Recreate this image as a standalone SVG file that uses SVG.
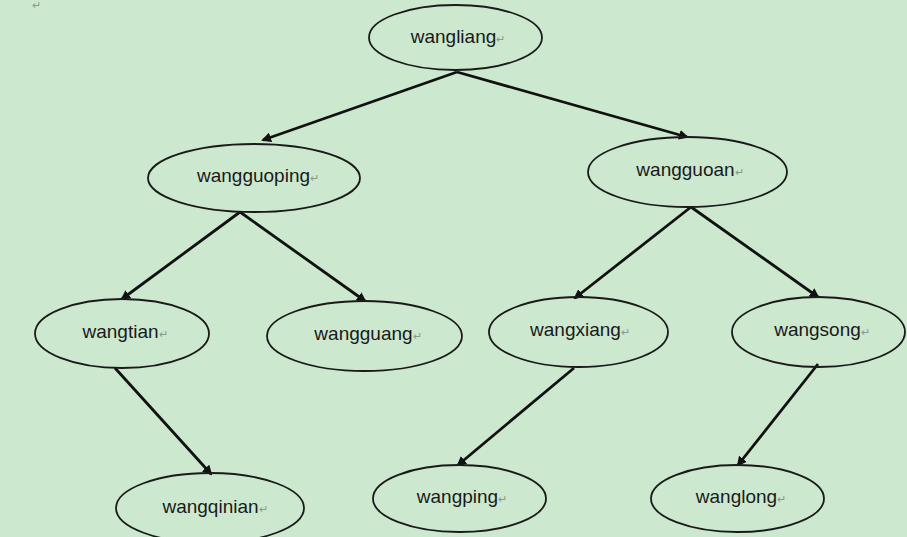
<svg xmlns="http://www.w3.org/2000/svg" width="907" height="537" viewBox="0 0 907 537">
<style>
.n{fill:none;stroke:#1a1a1a;stroke-width:1.8}
.t{font-family:"Liberation Sans",Arial,sans-serif;font-size:19px;fill:#1a1a1a;text-anchor:middle}
.r{font-size:11px;fill:#8a9a8a}
.c line{stroke:#111;stroke-width:2.8;marker-end:url(#a)}
</style>
<defs>
<marker id="a" markerWidth="10" markerHeight="10" refX="8" refY="5" orient="auto" markerUnits="userSpaceOnUse">
<path d="M0,0 L10,5 L0,10 Z" fill="#111"/>
</marker>
</defs>
<rect width="907" height="537" fill="#cce8cf"/>
<text x="36" y="9" class="t r">↵</text>
<g class="c" id="connectors">
<line x1="457" y1="72" x2="263" y2="140"/>
<line x1="457" y1="72" x2="687" y2="137"/>
<line x1="240" y1="212" x2="122" y2="299"/>
<line x1="240" y1="212" x2="365" y2="301"/>
<line x1="691" y1="207" x2="575" y2="298"/>
<line x1="691" y1="207" x2="818" y2="297"/>
<line x1="115" y1="368" x2="211" y2="474"/>
<line x1="574" y1="368" x2="458" y2="465"/>
<line x1="818" y1="364" x2="738" y2="465"/>
</g>
<g id="wangliang"><ellipse class="n" cx="455.5" cy="37.5" rx="86.5" ry="32.5"/><text class="t" x="458" y="43">wangliang<tspan class="r">↵</tspan></text></g>
<g id="wangguoping"><ellipse class="n" cx="254" cy="178" rx="106" ry="34"/><text class="t" x="258" y="182">wangguoping<tspan class="r">↵</tspan></text></g>
<g id="wangguoan"><ellipse class="n" cx="687.5" cy="172" rx="99.5" ry="35"/><text class="t" x="690" y="176">wangguoan<tspan class="r">↵</tspan></text></g>
<g id="wangtian"><ellipse class="n" cx="122" cy="333.5" rx="87" ry="34.5"/><text class="t" x="125" y="338">wangtian<tspan class="r">↵</tspan></text></g>
<g id="wangguang"><ellipse class="n" cx="364.5" cy="336" rx="97.5" ry="35"/><text class="t" x="368" y="340">wangguang<tspan class="r">↵</tspan></text></g>
<g id="wangxiang"><ellipse class="n" cx="578.5" cy="332" rx="89.5" ry="35"/><text class="t" x="580" y="336">wangxiang<tspan class="r">↵</tspan></text></g>
<g id="wangsong"><ellipse class="n" cx="818.5" cy="332" rx="86.5" ry="35"/><text class="t" x="822" y="336">wangsong<tspan class="r">↵</tspan></text></g>
<g id="wangqinian"><ellipse class="n" cx="210" cy="508" rx="94" ry="35"/><text class="t" x="215" y="513">wangqinian<tspan class="r">↵</tspan></text></g>
<g id="wangping"><ellipse class="n" cx="459.5" cy="498.5" rx="86.5" ry="33.5"/><text class="t" x="462" y="503">wangping<tspan class="r">↵</tspan></text></g>
<g id="wanglong"><ellipse class="n" cx="737.5" cy="498.5" rx="86.5" ry="33.5"/><text class="t" x="741" y="503">wanglong<tspan class="r">↵</tspan></text></g>
</svg>
